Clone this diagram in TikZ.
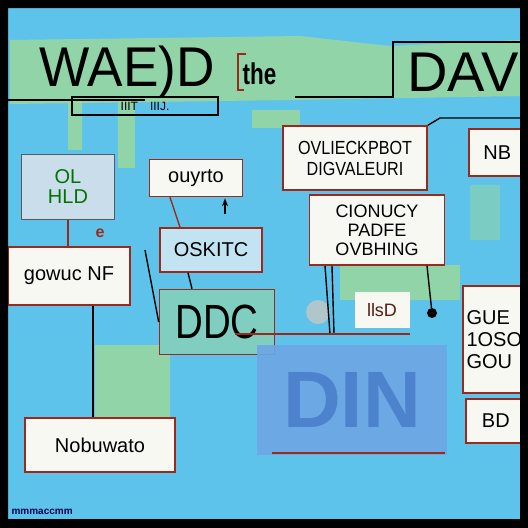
\documentclass[tikz,border=0pt]{standalone}
\usepackage{fontspec}
\setmainfont{Liberation Sans}
\usepackage{xcolor}
\definecolor{sky}{HTML}{5EC3EA}
\definecolor{leaf}{HTML}{A8DC8C}
\definecolor{brick}{HTML}{9A2A1C}
\definecolor{paper}{HTML}{F8F8F3}
\definecolor{mist}{HTML}{CADDEB}
\definecolor{ice}{HTML}{C2E4F2}
\definecolor{panel}{HTML}{6EA6E4}
\definecolor{ink}{HTML}{4A7ECA}
\usetikzlibrary{arrows.meta,positioning,calc}

\begin{document}
\begin{tikzpicture}[
    x=1pt, y=-1pt,
    font=\fontsize{20}{22}\selectfont,
    box/.style={rectangle, draw=brick, fill=paper, line width=1.6pt, align=center, inner sep=2pt},
    titlefont/.style={font=\fontsize{56}{56}\selectfont},
    link/.style={line width=1.4pt, draw=black},
    redlink/.style={line width=1.4pt, draw=brick},
    arrow/.style={-{Stealth[length=8pt]}, line width=1.4pt},
    patch/.style={fill=leaf, opacity=0.7},
]
\useasboundingbox (0,0) rectangle (528,528);
\fill[sky] (0,0) rectangle (528,528);

% Background patches
\fill[patch] (10,40) -- (300,36) -- (390,46) -- (520,40) -- (520,96) -- (290,100) -- (10,104) -- cycle;
\fill[patch] (68,100) rectangle (82,150);
\fill[patch] (118,100) rectangle (135,168);
\fill[patch] (252,110) rectangle (300,128);
\fill[patch] (95,345) rectangle (170,420);
\fill[patch] (340,265) rectangle (460,300);
\fill[patch, opacity=0.4] (470,185) rectangle (500,240);

% Title
\node[titlefont, anchor=west, xscale=0.95] (title) at (36,72) {WAE)D};
\node[font=\fontsize{30}{30}\selectfont\bfseries, anchor=west, xscale=0.75] (the) at (240,74) {the};
\draw[brick, line width=1.6pt] (246,54) -- (238,54) -- (238,90) -- (244,90);
\node[titlefont, anchor=west] (dav) at (404,72) {DAV};
\draw[link] (8,100) -- (145,100);
\node[rectangle, draw=black, line width=1.4pt, minimum width=146pt, minimum height=18pt,
      inner sep=0pt, font=\fontsize{12}{12}\selectfont] (sub) at (145,106) {IIIT\quad IIIJ.};
\draw[link] (295,97) -- (393,97) -- (393,42) -- (525,42);

% Left column
\node[box, draw=gray!70!black, fill=mist, minimum width=93pt, minimum height=65pt,
      text=green!45!black] (olbox) at (68,187) {OL\\[-2pt] HLD};
\node[box, minimum width=122pt, minimum height=58pt] (gowic) at (69,276) {gowuc NF};
\node[box, minimum width=150pt, minimum height=54pt] (nobu) at (100,445) {Nobuwato};
\node[text=brick, font=\fontsize{16}{16}\selectfont\bfseries] (squig) at (100,233) {e};

% Middle column
\node[box, minimum width=93pt, minimum height=37pt] (quyrto) at (196,178) {ouyrto};
\node[box, fill=ice, minimum width=102pt, minimum height=44pt] (oskitc) at (211,250) {OSKITC};
\node[box, fill=leaf!45!sky, minimum width=115pt, minimum height=65pt,
      font=\fontsize{48}{48}\selectfont] (ddc) at (217,322) {\scalebox{0.8}[1]{DDC}};

% Notes in the middle
\node[box, minimum width=170pt, minimum height=64pt, font=\fontsize{19}{21}\selectfont,
      xscale=0.85] (ovlie) at (355,158) {OVLIECKPBOT\\ DIGVALEURI};
\node[box, minimum width=135pt, minimum height=70pt, font=\fontsize{18}{19}\selectfont] (cionu) at (377,230) {CIONUCY\\ PADFE\\ OVBHING};
\node[fill=paper, minimum width=55pt, minimum height=36pt, font=\fontsize{18}{18}\selectfont,
      text=brick!60!black] (llsd) at (382,310) {llsD};
\node[circle, fill=gray!45, opacity=0.8, minimum size=24pt] (knob) at (318,312) {};
\node[circle, fill=black, minimum size=10pt, inner sep=0pt] (dot) at (432,313) {};

% Faded panel
\node[rectangle, fill=panel, opacity=0.9, minimum width=190pt, minimum height=110pt,
      text=ink, font=\fontsize{80}{80}\selectfont\bfseries] (din) at (352,400) {DIN};
\draw[redlink] (272,453) -- (445,453);

% Right column
\node[box, minimum width=57pt, minimum height=47pt, anchor=north west] (nb) at (468,128) {NB};
\node[box, minimum width=63pt, minimum height=107pt, anchor=north west,
      align=left] (gue) at (462,285) {GUE\\ 1OSO\\ GOU};
\node[box, minimum width=60pt, minimum height=44pt, anchor=north west] (bd) at (465,398) {BD};

% Connectors
\coordinate (ovtop) at (440,118);
\coordinate (rail) at (330,334);
\draw[redlink] (olbox.south) -- (gowic.north -| olbox.south);
\draw[link] ($(gowic.south)+(24,0)$) -- (nobu.north -| {$(gowic.south)+(24,0)$});
\draw[redlink] ($(quyrto.south)+(-26,0)$) -- ($(oskitc.north)+(-31,0)$);
\draw[arrow] ($(quyrto.south)+(29,17)$) -- ($(quyrto.south)+(29,1)$);
\draw[link] ($(oskitc.south)+(-23,0)$) -- ($(ddc.north)+(-25,0)$);
\draw[link] (145,250) -- (ddc.west);
\draw[link] ($(cionu.south)+(-52,0)$) -- (rail);
\draw[link] ($(cionu.south)+(-45,0)$) -- ($(rail)+(4,0)$);
\draw[link] ($(cionu.south)+(50,0)$) -- (dot);
\draw[redlink] (235,334) -- (410,334);
\draw[link] (ovlie.north east) -- (ovtop) -- (nb.north east |- ovtop);

% Tiny footer
\node[anchor=west, text=blue!30!black, font=\fontsize{10}{10}\selectfont\bfseries] (foot) at (8,512) {mmmaccmm};

% Frame
\fill[black, even odd rule] (0,0) rectangle (528,528) (8,8) rectangle (520,519);
\end{tikzpicture}
\end{document}
